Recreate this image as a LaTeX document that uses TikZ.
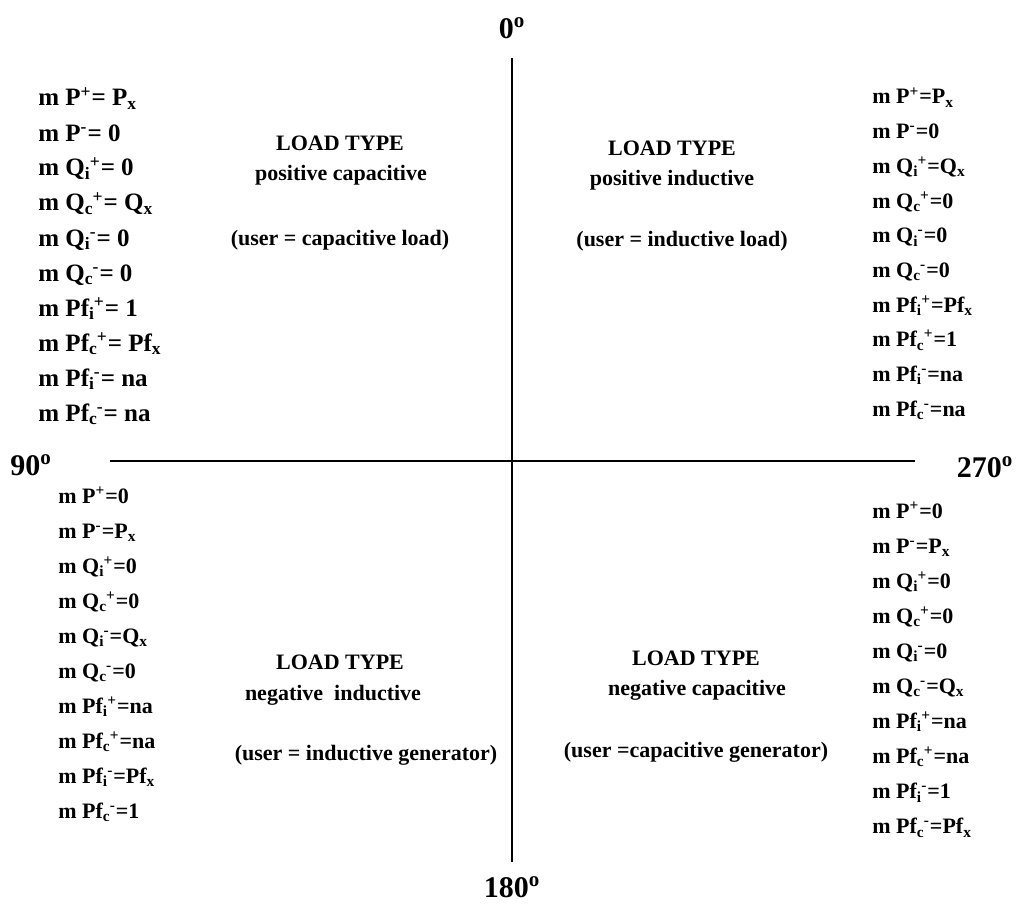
\documentclass[tikz,border=0pt]{standalone}
\usepackage{fontspec}
\setmainfont{Liberation Serif}
\usetikzlibrary{positioning}

\newcommand{\sbsp}[2]{\textsubscript{#1}\kern-0.5pt\textsuperscript{#2}}

\begin{document}
\begin{tikzpicture}[
    x=0.5pt, y=-0.5pt,
    axis/.style={line width=1pt},
    entry/.style={anchor=west, inner sep=0pt, font=\bfseries\fontsize{11}{13}\selectfont,
                  text height=8pt, text depth=2pt},
    bigentry/.style={entry, font=\bfseries\fontsize{12.5}{14}\selectfont},
    title/.style={inner sep=0pt, font=\bfseries\fontsize{11}{13}\selectfont},
    angle/.style={inner sep=0pt, font=\bfseries\fontsize{15}{17}\selectfont}
]
    \useasboundingbox (0,0) rectangle (1018,920);

    % axes
    \coordinate (top) at (512,58);
    \coordinate (bottom) at (512,862);
    \coordinate (left) at (110,461);
    \coordinate (right) at (915,461);
    \draw[axis] (top) -- (bottom);
    \draw[axis] (left) -- (right);

    \node[angle] (deg0) at (512,28) {0\textsuperscript{o}};
    \node[angle] (deg90) at (31,465) {90\textsuperscript{o}};
    \node[angle] (deg270) at (985,467) {270\textsuperscript{o}};
    \node[angle] (deg180) at (512,887) {180\textsuperscript{o}};

    % top left
    \node[title] (tltype) at (340,143) {LOAD TYPE};
    \node[title] (tlsign) at (341,175) {positive capacitive};
    \node[title] (tluser) at (340,240) {(user = capacitive load)};
    \foreach \t [count=\i] in {
        {m P\textsuperscript{+}= P\textsubscript{x}},
        {m P\textsuperscript{-}= 0},
        {m Q\sbsp{i}{+}= 0},
        {m Q\sbsp{c}{+}= Q\textsubscript{x}},
        {m Q\sbsp{i}{-}= 0},
        {m Q\sbsp{c}{-}= 0},
        {m Pf\sbsp{i}{+}= 1},
        {m Pf\sbsp{c}{+}= Pf\textsubscript{x}},
        {m Pf\sbsp{i}{-}= na},
        {m Pf\sbsp{c}{-}= na}}
        \node[bigentry] (tl\i) at (38,{100+35*(\i-1)}) {\t};

    % top right
    \node[title] (trtype) at (672,148) {LOAD TYPE};
    \node[title] (trsign) at (672,180) {positive inductive};
    \node[title] (truser) at (682,241) {(user = inductive load)};
    \foreach \t [count=\i] in {
        {m P\textsuperscript{+}=P\textsubscript{x}},
        {m P\textsuperscript{-}=0},
        {m Q\sbsp{i}{+}=Q\textsubscript{x}},
        {m Q\sbsp{c}{+}=0},
        {m Q\sbsp{i}{-}=0},
        {m Q\sbsp{c}{-}=0},
        {m Pf\sbsp{i}{+}=Pf\textsubscript{x}},
        {m Pf\sbsp{c}{+}=1},
        {m Pf\sbsp{i}{-}=na},
        {m Pf\sbsp{c}{-}=na}}
        \node[entry] (tr\i) at (872,{98+34.7*(\i-1)}) {\t};

    % bottom left
    \node[title] (bltype) at (340,662) {LOAD TYPE};
    \node[title] (blsign) at (333,695) {negative\ \ inductive};
    \node[title] (bluser) at (366,755) {(user = inductive generator)};
    \foreach \t [count=\i] in {
        {m P\textsuperscript{+}=0},
        {m P\textsuperscript{-}=P\textsubscript{x}},
        {m Q\sbsp{i}{+}=0},
        {m Q\sbsp{c}{+}=0},
        {m Q\sbsp{i}{-}=Q\textsubscript{x}},
        {m Q\sbsp{c}{-}=0},
        {m Pf\sbsp{i}{+}=na},
        {m Pf\sbsp{c}{+}=na},
        {m Pf\sbsp{i}{-}=Pf\textsubscript{x}},
        {m Pf\sbsp{c}{-}=1}}
        \node[entry] (bl\i) at (58,{497+35*(\i-1)}) {\t};

    % bottom right
    \node[title] (brtype) at (696,658) {LOAD TYPE};
    \node[title] (brsign) at (697,690) {negative capacitive};
    \node[title] (bruser) at (696,752) {(user =capacitive generator)};
    \foreach \t [count=\i] in {
        {m P\textsuperscript{+}=0},
        {m P\textsuperscript{-}=P\textsubscript{x}},
        {m Q\sbsp{i}{+}=0},
        {m Q\sbsp{c}{+}=0},
        {m Q\sbsp{i}{-}=0},
        {m Q\sbsp{c}{-}=Q\textsubscript{x}},
        {m Pf\sbsp{i}{+}=na},
        {m Pf\sbsp{c}{+}=na},
        {m Pf\sbsp{i}{-}=1},
        {m Pf\sbsp{c}{-}=Pf\textsubscript{x}}}
        \node[entry] (br\i) at (872,{512+35.1*(\i-1)}) {\t};
\end{tikzpicture}
\end{document}
